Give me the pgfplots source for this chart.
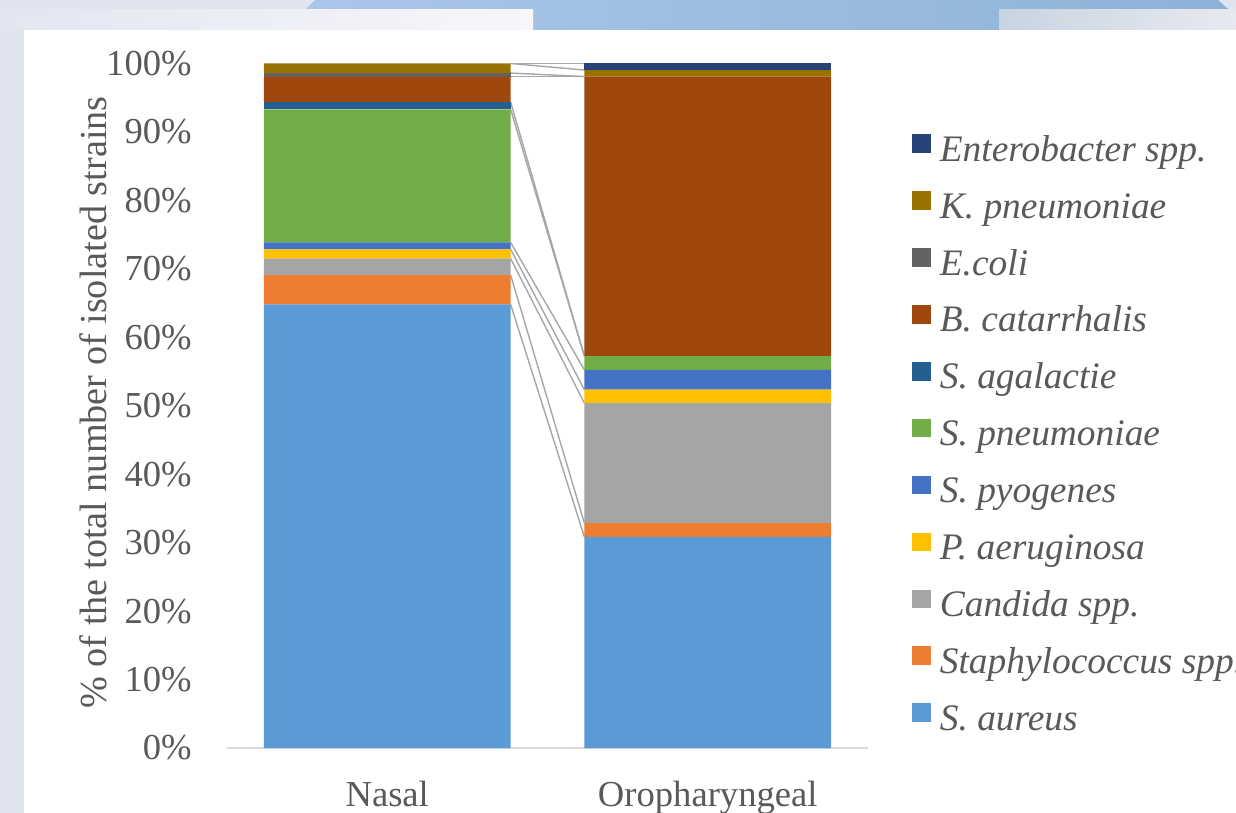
\documentclass[border=0pt]{standalone}
\usepackage{fontspec}
\setmainfont{Liberation Serif}
\usepackage{pgfplots}
\pgfplotsset{compat=1.18}

% series colours
\definecolor{saureus}{HTML}{5B9BD5}
\definecolor{staph}{HTML}{ED7D31}
\definecolor{candida}{HTML}{A5A5A5}
\definecolor{paer}{HTML}{FFC000}
\definecolor{spyo}{HTML}{4472C4}
\definecolor{spneu}{HTML}{70AD47}
\definecolor{sagal}{HTML}{255E91}
\definecolor{bcat}{HTML}{9E480E}
\definecolor{ecoli}{HTML}{636363}
\definecolor{kpneu}{HTML}{997300}
\definecolor{entero}{HTML}{264478}
% text, axis and background colours
\definecolor{txt}{HTML}{595959}
\definecolor{axisgray}{HTML}{D9D9D9}
\definecolor{sergray}{HTML}{A6A6A6}
\definecolor{bgbase}{HTML}{DFE4EE}
\definecolor{blueA}{HTML}{A9C7EA}
\definecolor{blueB}{HTML}{8DB2D7}
\definecolor{panelA}{HTML}{E2E6F1}
\definecolor{panelB}{HTML}{F7F7FA}
\definecolor{greyA}{HTML}{C8D4E1}
\definecolor{greyB}{HTML}{E8E9F0}

\newcommand{\chartfont}{\fontsize{18.3}{22}\selectfont}
\pgfplotsset{serline/.style={forget plot,sharp plot,stack plots=false,
  draw=sergray,line width=0.7pt,mark=none,fill=none}}

\begin{document}
\chartfont
\begin{tikzpicture}
\useasboundingbox (0,0) rectangle (618pt,-406.5pt);
% backdrop behind the chart area
\begin{scope}[x=0.5pt,y=-0.5pt]
  \fill[bgbase] (0,0) rectangle (1236,813);
  \shade[left color=blueA,right color=blueB]
    (315,0) -- (1218,0) -- (1236,16) -- (1236,30) -- (285,30) -- cycle;
  \shade[left color=panelA,right color=panelB] (0,10) rectangle (533,30);
  \shade[left color=greyA,right color=greyB] (999,10) rectangle (1236,30);
  \fill[white] (24,30) rectangle (1236,813);
  \node[rotate=90,text=txt,inner sep=0pt,font=\fontsize{19.1}{23}\selectfont] at (93,402.5)
    {\% of the total number of isolated strains};
\end{scope}

\begin{axis}[
  at={(113.5pt,-374pt)}, anchor=south west,
  scale only axis, width=320.5pt, height=342.25pt,
  ybar stacked, bar width=0.77,
  xmin=-0.5, xmax=1.5, ymin=0, ymax=100,
  xtick={0,1}, xticklabels={Nasal,Oropharyngeal},
  ytick={0,10,...,100},
  yticklabel={\pgfmathprintnumber{\tick}\%},
  /pgf/number format/assume math mode=true,
  separate axis lines,
  axis x line*=bottom, axis y line*=left,
  x axis line style={draw=axisgray,line width=0.8pt},
  y axis line style={draw=none},
  major tick length=0pt,
  tick label style={text=txt,font=\chartfont},
  yticklabel style={anchor=east,inner sep=0pt,xshift=-17.5pt},
  xticklabel style={anchor=base,inner sep=0pt,yshift=-29pt},
  reverse legend,
  legend cell align=left,
  legend image code/.code={\fill[#1] (0pt,-0.1pt) rectangle (9.3pt,9.2pt);},
  legend style={at={(1.0686,0.8965)}, anchor=north west,
    draw=none, fill=none, inner sep=0pt, outer sep=0pt,
    row sep=11pt, column sep=4.65pt,
    font=\itshape\fontsize{18.7}{22}\selectfont, text=txt,
    nodes={inner sep=0pt,text height=12.5pt,text depth=4pt}},
]
% share of each organism (%), Nasal then Oropharyngeal
\addplot[fill=saureus,draw=none] coordinates {(0,64.8) (1,30.85)};
\addlegendentry{S. aureus}
\addplot[fill=staph,draw=none] coordinates {(0,4.3) (1,2.0)};
\addlegendentry{Staphylococcus spp.}
\addplot[fill=candida,draw=none] coordinates {(0,2.4) (1,17.55)};
\addlegendentry{Candida spp.}
\addplot[fill=paer,draw=none] coordinates {(0,1.35) (1,1.95)};
\addlegendentry{P. aeruginosa}
\addplot[fill=spyo,draw=none] coordinates {(0,1.0) (1,2.9)};
\addlegendentry{S. pyogenes}
\addplot[fill=spneu,draw=none] coordinates {(0,19.45) (1,2.0)};
\addlegendentry{S. pneumoniae}
\addplot[fill=sagal,draw=none] coordinates {(0,1.05) (1,0)};
\addlegendentry{S. agalactie}
\addplot[fill=bcat,draw=none] coordinates {(0,3.75) (1,40.85)};
\addlegendentry{B. catarrhalis}
\addplot[fill=ecoli,draw=none] coordinates {(0,0.5) (1,0)};
\addlegendentry{E.coli}
\addplot[fill=kpneu,draw=none] coordinates {(0,1.4) (1,0.95)};
\addlegendentry{K. pneumoniae}
\addplot[fill=entero,draw=none] coordinates {(0,0) (1,0.95)};
\addlegendentry{Enterobacter spp.}

% series lines joining the top of each segment (cumulative shares)
\addplot[serline] coordinates {(0.385,64.8) (0.615,30.85)};
\addplot[serline] coordinates {(0.385,69.1) (0.615,32.85)};
\addplot[serline] coordinates {(0.385,71.5) (0.615,50.4)};
\addplot[serline] coordinates {(0.385,72.85) (0.615,52.35)};
\addplot[serline] coordinates {(0.385,73.85) (0.615,55.25)};
\addplot[serline] coordinates {(0.385,93.3) (0.615,57.25)};
\addplot[serline] coordinates {(0.385,94.35) (0.615,57.25)};
\addplot[serline] coordinates {(0.385,98.1) (0.615,98.1)};
\addplot[serline] coordinates {(0.385,98.6) (0.615,98.1)};
\addplot[serline] coordinates {(0.385,100) (0.615,99.05)};
\addplot[serline] coordinates {(0.385,100) (0.615,100)};
\end{axis}
\end{tikzpicture}
\end{document}
